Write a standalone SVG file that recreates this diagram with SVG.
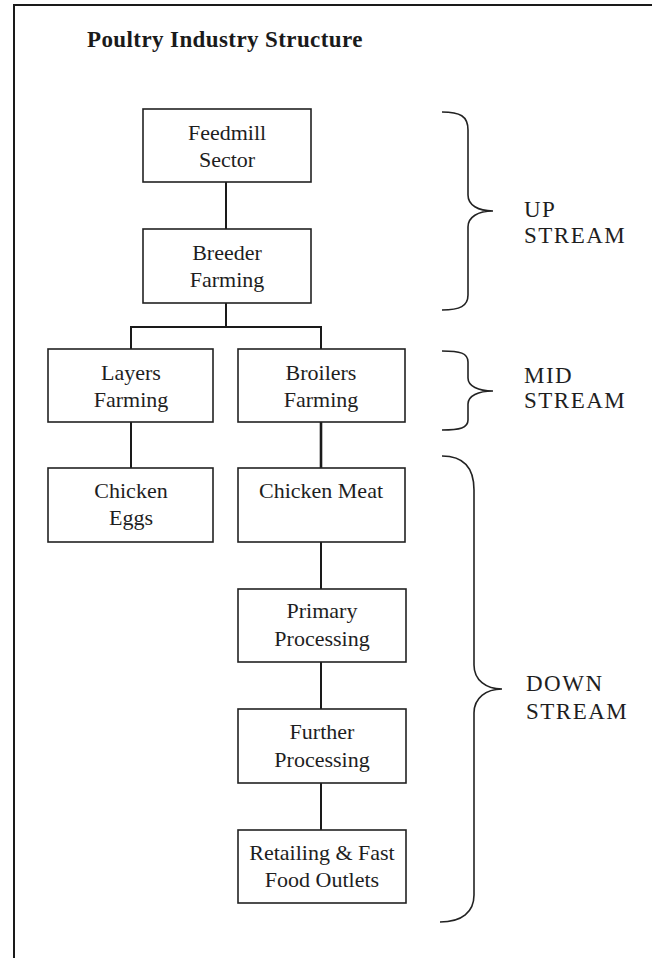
<svg xmlns="http://www.w3.org/2000/svg" width="652" height="958" viewBox="0 0 652 958">
<style>
  .frame{fill:none;stroke:#1a1a1a;stroke-width:2}
  .box{fill:#fff;stroke:#222;stroke-width:1.6}
  .lbl{font-family:"Liberation Serif","Times New Roman",serif;font-size:22px;fill:#1e1e1e;text-anchor:middle}
  .side{font-family:"Liberation Serif","Times New Roman",serif;font-size:23px;letter-spacing:1.5px;fill:#1e1e1e}
  .title{font-family:"Liberation Serif","Times New Roman",serif;font-size:23px;font-weight:bold;letter-spacing:0.4px;fill:#1a1a1a}
  .conn{stroke:#1a1a1a;stroke-width:2;fill:none}
  .brace{stroke:#222;stroke-width:1.6;fill:none}
</style>
<rect width="652" height="958" fill="#fff"/>
<g id="frame">
  <path class="frame" d="M14,958 L14,5 L652,5"/>
</g>
<text id="title" class="title" x="87" y="47">Poultry Industry Structure</text>
<g id="connectors">
  <path class="conn" d="M226,182 V229"/>
  <path class="conn" d="M226,303 V327"/>
  <path class="conn" d="M131,349 V327 H321 V349"/>
  <path class="conn" d="M131,422 V468"/>
  <path class="conn" d="M321,422 V468" style="stroke-width:2.6"/>
  <path class="conn" d="M321,542 V589"/>
  <path class="conn" d="M321,662 V709"/>
  <path class="conn" d="M321,783 V830"/>
</g>
<g id="feedmill">
  <rect class="box" x="143" y="109" width="168" height="73"/>
  <text class="lbl" x="227" y="140">Feedmill</text>
  <text class="lbl" x="227" y="167">Sector</text>
</g>
<g id="breeder">
  <rect class="box" x="143" y="229" width="168" height="74"/>
  <text class="lbl" x="227" y="260">Breeder</text>
  <text class="lbl" x="227" y="287">Farming</text>
</g>
<g id="layers">
  <rect class="box" x="48" y="349" width="165" height="73"/>
  <text class="lbl" x="131" y="380">Layers</text>
  <text class="lbl" x="131" y="407">Farming</text>
</g>
<g id="broilers">
  <rect class="box" x="238" y="349" width="167" height="73"/>
  <text class="lbl" x="321" y="380">Broilers</text>
  <text class="lbl" x="321" y="407">Farming</text>
</g>
<g id="eggs">
  <rect class="box" x="48" y="468" width="165" height="74"/>
  <text class="lbl" x="131" y="498">Chicken</text>
  <text class="lbl" x="131" y="525">Eggs</text>
</g>
<g id="meat">
  <rect class="box" x="238" y="468" width="167" height="74"/>
  <text class="lbl" x="321" y="498">Chicken Meat</text>
</g>
<g id="primary">
  <rect class="box" x="238" y="589" width="168" height="73"/>
  <text class="lbl" x="322" y="618">Primary</text>
  <text class="lbl" x="322" y="646">Processing</text>
</g>
<g id="further">
  <rect class="box" x="238" y="709" width="168" height="74"/>
  <text class="lbl" x="322" y="739">Further</text>
  <text class="lbl" x="322" y="767">Processing</text>
</g>
<g id="retail">
  <rect class="box" x="238" y="830" width="168" height="73"/>
  <text class="lbl" x="322" y="860">Retailing &amp; Fast</text>
  <text class="lbl" x="322" y="887">Food Outlets</text>
</g>
<g id="upstream">
  <path class="brace" d="M442,112 C460,112 468,116 468,130 L468,195 C468,205 478,211 493,211 C478,211 468,217 468,227 L468,295 C468,306 460,310 442,310"/>
  <text class="side" x="524" y="217">UP</text>
  <text class="side" x="524" y="243">STREAM</text>
</g>
<g id="midstream">
  <path class="brace" d="M442,351 C460,351 468,353 468,362 L468,378 C468,386 478,391 493,391 C478,391 468,396 468,404 L468,420 C468,428 460,430 442,430"/>
  <text class="side" x="524" y="383">MID</text>
  <text class="side" x="524" y="408">STREAM</text>
</g>
<g id="downstream">
  <path class="brace" d="M442,456 C462,456 474,466 474,490 L474,665 C474,680 486,689 502,689 C486,689 474,698 474,713 L474,895 C474,912 462,922 440,922"/>
  <text class="side" x="526" y="691">DOWN</text>
  <text class="side" x="526" y="719">STREAM</text>
</g>
</svg>
